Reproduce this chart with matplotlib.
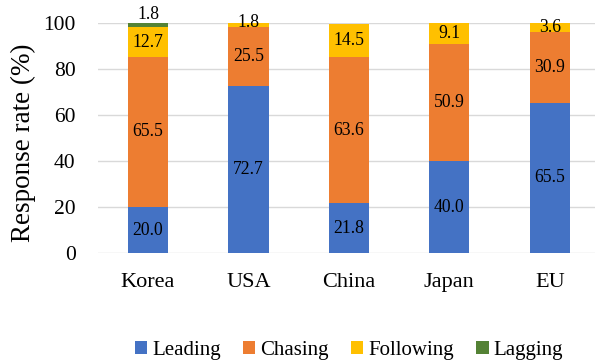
import numpy as np
import matplotlib.pyplot as plt

plt.rcParams["font.family"] = ["Liberation Serif", "DejaVu Serif"]

regions = ["Korea", "USA", "China", "Japan", "EU"]
leading = [20.0, 72.7, 21.8, 40.0, 65.5]
chasing = [65.5, 25.5, 63.6, 50.9, 30.9]
following = [12.7, 1.8, 14.5, 9.1, 3.6]
lagging = [1.8, 0.0, 0.0, 0.0, 0.0]

series = [
    ("Leading", leading, "#4472C4"),
    ("Chasing", chasing, "#ED7D31"),
    ("Following", following, "#FFC000"),
    ("Lagging", lagging, "#548235"),
]

fig = plt.figure(figsize=(5.95, 3.62), dpi=100)
# plot area runs slightly past the right edge, as in the source image
ax = fig.add_axes([0.1643, 0.3003, 0.8441, 0.6354])

x = np.arange(len(regions))
bottom = np.zeros(len(regions))
for name, vals, color in series:
    vals = np.array(vals)
    ax.bar(x, vals, 0.4, bottom=bottom, color=color, label=name, zorder=2)
    for i, v in enumerate(vals):
        if v <= 0:
            continue
        y = bottom[i] + v / 2
        if name == "Lagging":
            y = bottom[i] + v + 4.0
        elif v < 3:
            y = bottom[i] + v / 2 + 1.2
        ax.text(x[i], y, f"{v:.1f}", ha="center", va="center",
                fontsize=12.7, color="black", zorder=3)
    bottom += vals

ax.set_xlim(-0.5, len(regions) - 0.5)
ax.set_ylim(0, 100)
ax.set_yticks(range(0, 101, 20))
ax.set_xticks(x)
ax.set_xticklabels(regions)
ax.tick_params(axis="y", length=0, labelsize=15.5, pad=16)
ax.tick_params(axis="x", length=0, labelsize=16, pad=14)
ax.grid(axis="y", color="#D9D9D9", linewidth=1, zorder=0)
for s in ax.spines.values():
    s.set_visible(False)

fig.text(23 / 595, 1 - 143 / 362, "Response rate (%)", rotation=90,
         ha="center", va="center", fontsize=19.5)

fig.legend(loc="center", bbox_to_anchor=(349 / 595, 1 - 350 / 362), ncol=4,
           frameon=False, fontsize=15, handlelength=0.6, handleheight=0.6,
           handletextpad=0.25, columnspacing=1.05, borderpad=0)

fig.savefig("out.png", dpi=100)
